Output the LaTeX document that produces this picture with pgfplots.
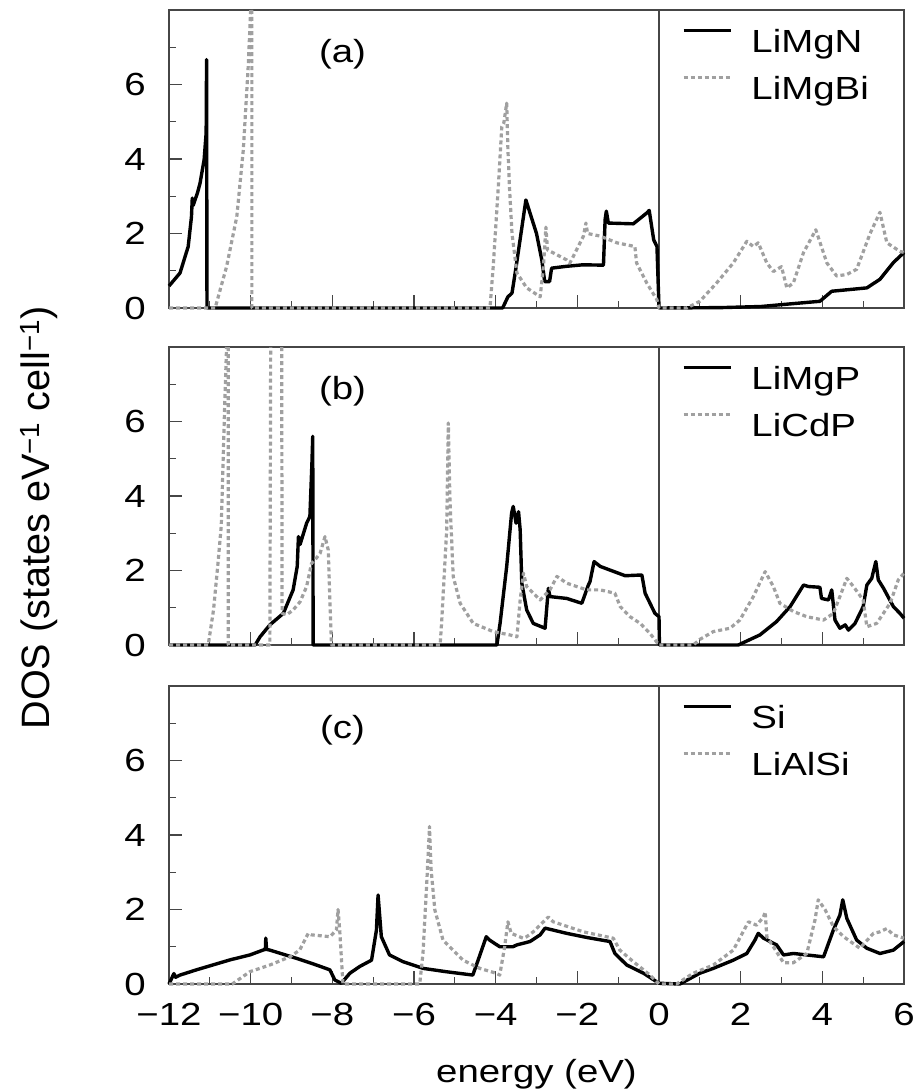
\documentclass[border=0pt]{standalone}
\usepackage{fontspec}
\setmainfont{Liberation Sans}
\usepackage{pgfplots}
\pgfplotsset{compat=1.18}
\definecolor{dgray}{RGB}{160,160,160}
\definecolor{fgray}{RGB}{70,70,70}
\newcommand\tfont{\fontsize{32}{38}\selectfont}
\newcommand\sx[1]{\scalebox{1.2}[1]{#1}}
\pgfplotsset{
  dos/.style={
    scale only axis, width=735pt, height=298pt,
    xmin=-12, xmax=6, ymin=0, ymax=8,
    xtick={-12,-10,...,6}, minor xtick={-11,-9,...,5},
    ytick={0,2,4,6}, minor ytick={1,3,5,7},
    yticklabels={\sx{0},\sx{2},\sx{4},\sx{6}},
    xticklabels={,,,,,,,,,},
    tick align=inside, tick pos=left,
    major tick length=13pt, minor tick length=7pt,
    every tick/.append style={fgray, line width=1.2pt},
    axis line style={fgray, line width=1.5pt},
    ticklabel style={font=\tfont},
    yticklabel style={inner sep=0pt, xshift=-23pt},
    xticklabel style={inner sep=0pt, yshift=-19pt},
    clip=false, unbounded coords=jump,
    legend style={draw=none, fill=none, at={(axis cs:0.564,7.50)}, anchor=north west,
      inner sep=0pt, outer sep=0pt, row sep=16.5pt, column sep=19pt, font=\tfont,
      nodes={inner sep=0pt, text height=23pt, text depth=7pt}},
    legend cell align=left,
    legend image code/.code={\draw[##1] (0pt,14pt) -- (47pt,14pt);},
  },
  blk/.style={black, line width=3.4pt, line join=round},
  gry/.style={dgray, line width=3.2pt, dash pattern=on 4pt off 3pt, line join=round},
}
\begin{document}
\begin{tikzpicture}
\useasboundingbox (0pt,0pt) rectangle (917pt,-1089pt);

% ---------------- panel (a)
\begin{axis}[dos, at={(169pt,-308pt)}, anchor=south west]
\addplot[fgray, line width=1.2pt, forget plot] coordinates {(0,0) (0,8)};
\addplot[blk] coordinates {
(-12,0.59) (-11.73,0.94) (-11.53,1.65) (-11.45,2.45) (-11.43,2.95) (-11.41,2.75)
(-11.3,3.1) (-11.24,3.35) (-11.14,3.98) (-11.09,4.7) (-11.08,6.67) (-11.07,0)
(-3.83,0) (-3.7,0.3) (-3.6,0.4) (-3.5,1.1) (-3.38,2.0) (-3.26,2.9) (-3.0,2.0)
(-2.87,1.29) (-2.8,0.71) (-2.68,0.71) (-2.63,1.07) (-2.26,1.12) (-1.86,1.16)
(-1.36,1.15) (-1.32,2.37) (-1.29,2.6) (-1.24,2.28) (-0.63,2.26) (-0.3,2.55)
(-0.24,2.62) (-0.13,1.83) (-0.05,1.65) (0,0) (1.5,0.01) (2.5,0.04) (3.0,0.09)
(3.94,0.18) (4.23,0.45) (5.09,0.54) (5.41,0.77) (5.74,1.22) (6,1.49)};
\addlegendentry{\sx{LiMgN}}
\addplot[gry] coordinates {
(-12,0) (-10.87,0) (-10.59,1.11) (-10.34,2.45) (-10.18,4.25) (-10.06,6.49)
(-10.0,8) (-9.985,nan) (-9.97,8) (-9.97,0) (-4.14,0) (-4.06,1.11) (-3.93,3.35)
(-3.85,4.87) (-3.80,4.97) (-3.73,5.5) (-3.70,4.25) (-3.66,3.2) (-3.6,2.0)
(-3.48,0.94) (-3.24,0.54) (-2.91,0.30) (-2.83,1.11) (-2.77,2.17) (-2.73,1.56)
(-2.26,1.29) (-2.18,1.21) (-1.85,1.93) (-1.79,2.28) (-1.75,2.0) (-1.44,1.93)
(-1.03,1.75) (-0.59,1.65) (-0.55,1.21) (-0.30,0.67) (-0.05,0.22) (0,0) (0.68,0)
(1.0,0.18) (1.41,0.67) (1.82,1.21) (2.15,1.79) (2.31,1.65) (2.43,1.75) (2.64,1.21)
(2.80,0.98) (3.0,1.11) (3.13,0.54) (3.29,0.67) (3.54,1.49) (3.84,2.1) (4.11,1.21)
(4.35,0.86) (4.6,0.9) (4.84,1.04) (5.17,2.0) (5.41,2.57) (5.58,1.75) (5.90,1.52) (6,1.49)};
\addlegendentry{\sx{LiMgBi}}
\node[font=\tfont] at (axis cs:-7.75,6.8) {\sx{(a)}};
\end{axis}

% ---------------- panel (b)
\begin{axis}[dos, at={(169pt,-645pt)}, anchor=south west]
\addplot[fgray, line width=1.2pt, forget plot] coordinates {(0,0) (0,8)};
\addplot[blk] coordinates {
(-12,0) (-9.89,0) (-9.77,0.22) (-9.53,0.54) (-9.2,0.85) (-8.96,1.48) (-8.86,2.11)
(-8.83,2.91) (-8.79,2.7) (-8.63,3.27) (-8.55,3.45) (-8.5,4.88) (-8.48,5.6) (-8.47,0)
(-3.97,0) (-3.89,0.6) (-3.73,2.11) (-3.61,3.54) (-3.57,3.72) (-3.50,3.27) (-3.44,3.58)
(-3.40,3.09) (-3.36,1.66) (-3.24,0.94) (-3.08,0.58) (-2.79,0.45) (-2.71,1.52)
(-2.67,1.30) (-2.26,1.25) (-1.89,1.12) (-1.73,1.61) (-1.69,1.70) (-1.59,2.24)
(-1.44,2.11) (-0.83,1.86) (-0.42,1.88) (-0.34,1.39) (-0.1,0.85) (0,0.76) (0.01,0)
(1.94,0) (2.47,0.27) (2.88,0.63) (3.21,1.03) (3.54,1.61) (3.66,1.57) (3.94,1.55)
(3.98,1.25) (4.15,1.21) (4.23,1.48) (4.31,0.67) (4.43,0.45) (4.56,0.54) (4.64,0.40)
(4.8,0.58) (5.0,1.03) (5.09,1.61) (5.21,1.79) (5.31,2.24) (5.37,1.75) (5.50,1.52)
(5.74,1.03) (5.90,0.85) (6,0.72)};
\addlegendentry{\sx{LiMgP}}
\addplot[gry] coordinates {
(-12,0) (-11.04,0) (-10.91,0.94) (-10.8,2.2) (-10.72,3.2) (-10.63,6.67) (-10.59,8)
(-10.57,nan) (-10.55,8) (-10.55,0) (-9.53,0) (-9.51,8) (-9.4,nan) (-9.24,8) (-9.23,0.85)
(-9.12,0.81) (-8.96,0.94) (-8.79,1.16) (-8.63,1.57) (-8.51,2.19) (-8.43,2.28)
(-8.30,2.46) (-8.18,2.91) (-8.10,2.55) (-8.06,1.21) (-8.02,0) (-5.36,0) (-5.32,0.67)
(-5.20,3.09) (-5.16,5.96) (-5.12,3.9) (-5.04,1.84) (-4.87,1.12) (-4.55,0.58)
(-4.06,0.36) (-3.65,0.27) (-3.48,0.22) (-3.40,1.21) (-3.32,1.93) (-3.24,1.57)
(-2.91,1.21) (-2.67,1.48) (-2.50,1.84) (-2.26,1.66) (-1.77,1.48) (-1.44,1.48)
(-1.08,1.39) (-0.95,1.03) (-0.71,0.76) (-0.46,0.58) (-0.22,0.31) (0,0) (0.84,0)
(1.0,0.15) (1.33,0.36) (1.74,0.45) (1.98,0.67) (2.31,1.30) (2.60,1.97) (2.80,1.57)
(2.96,1.12) (3.29,0.90) (3.62,0.76) (4.03,0.67) (4.27,0.85) (4.43,1.30) (4.6,1.79)
(4.76,1.57) (5.0,1.21) (5.09,0.49) (5.33,0.58) (5.66,1.12) (5.86,1.75) (6,1.93)};
\addlegendentry{\sx{LiCdP}}
\node[font=\tfont] at (axis cs:-7.75,6.8) {\sx{(b)}};
\end{axis}

% ---------------- panel (c)
\begin{axis}[dos, at={(169pt,-984pt)}, anchor=south west,
  xticklabels={\sx{−12},\sx{−10},\sx{−8},\sx{−6},\sx{−4},\sx{−2},\sx{0},\sx{2},\sx{4},\sx{6}},
  xlabel={\sx{energy (eV)}},
  xlabel style={font=\tfont, at={(axis description cs:0.5,0)}, anchor=base, yshift=-98pt}]
\addplot[fgray, line width=1.2pt, forget plot] coordinates {(0,0) (0,8)};
\addplot[blk] coordinates {
(-12,0) (-11.88,0.28) (-11.84,0.18) (-11.73,0.24) (-11.33,0.38) (-10.5,0.65)
(-10.02,0.78) (-9.7,0.91) (-9.64,0.93) (-9.63,1.23) (-9.61,0.93) (-9.53,0.91)
(-8.88,0.69) (-8.39,0.51) (-8.06,0.38) (-7.94,0.11) (-7.78,0.02) (-7.57,0.29)
(-7.33,0.47) (-7.04,0.64) (-6.92,1.45) (-6.88,2.39) (-6.80,1.27) (-6.60,0.78)
(-6.27,0.60) (-5.78,0.42) (-5.21,0.33) (-4.56,0.24) (-4.43,0.64) (-4.23,1.27)
(-4.15,1.18) (-3.90,1.0) (-3.58,1.0) (-3.48,1.05) (-3.16,1.14) (-2.91,1.32)
(-2.79,1.50) (-2.26,1.36) (-1.77,1.25) (-1.20,1.14) (-1.08,0.82) (-0.79,0.51)
(-0.38,0.29) (0,0.02) (0.51,0) (1.0,0.29) (1.33,0.42) (1.82,0.64) (2.15,0.82)
(2.35,1.18) (2.43,1.36) (2.56,1.23) (2.88,1.05) (3.05,0.78) (3.29,0.82) (3.62,0.78)
(4.03,0.73) (4.27,1.45) (4.43,1.85) (4.50,2.26) (4.60,1.76) (4.84,1.18) (5.09,0.96)
(5.41,0.82) (5.74,0.91) (6,1.14)};
\addlegendentry{\sx{Si}}
\addplot[gry] coordinates {
(-12,0) (-10.45,0) (-10.02,0.33) (-9.53,0.51) (-9.04,0.73) (-8.80,0.91) (-8.59,1.36)
(-8.51,1.32) (-8.06,1.27) (-7.90,1.45) (-7.86,2.0) (-7.82,1.45) (-7.74,0) (-5.86,0)
(-5.78,0.82) (-5.68,2.88) (-5.62,4.23) (-5.58,3.06) (-5.49,1.99) (-5.29,1.18)
(-4.80,0.64) (-4.39,0.42) (-3.99,0.29) (-3.90,0.24) (-3.78,1.0) (-3.70,1.67)
(-3.62,1.36) (-3.33,1.23) (-3.24,1.27) (-3.08,1.40) (-2.71,1.80) (-2.59,1.67)
(-1.85,1.40) (-1.12,1.23) (-0.96,0.91) (-0.63,0.60) (-0.22,0.24) (0,0) (0.43,0)
(0.84,0.29) (1.33,0.51) (1.82,0.91) (2.19,1.67) (2.39,1.58) (2.56,1.80) (2.60,1.94)
(2.64,1.27) (2.80,1.0) (3.05,0.57) (3.29,0.57) (3.62,0.82) (3.82,1.72) (3.90,2.26)
(4.07,1.99) (4.27,1.54) (4.52,1.27) (4.92,0.96) (5.25,1.36) (5.41,1.40) (5.58,1.49)
(5.74,1.32) (6,1.23)};
\addlegendentry{\sx{LiAlSi}}
\node[font=\tfont] at (axis cs:-7.75,6.8) {\sx{(c)}};
\end{axis}

\node[rotate=90, font=\fontsize{33}{40}\selectfont] at (39pt,-518pt)
  {\scalebox{1.2}[1.2]{DOS (states eV\textsuperscript{−1} cell\textsuperscript{−1})}};
\end{tikzpicture}
\end{document}
